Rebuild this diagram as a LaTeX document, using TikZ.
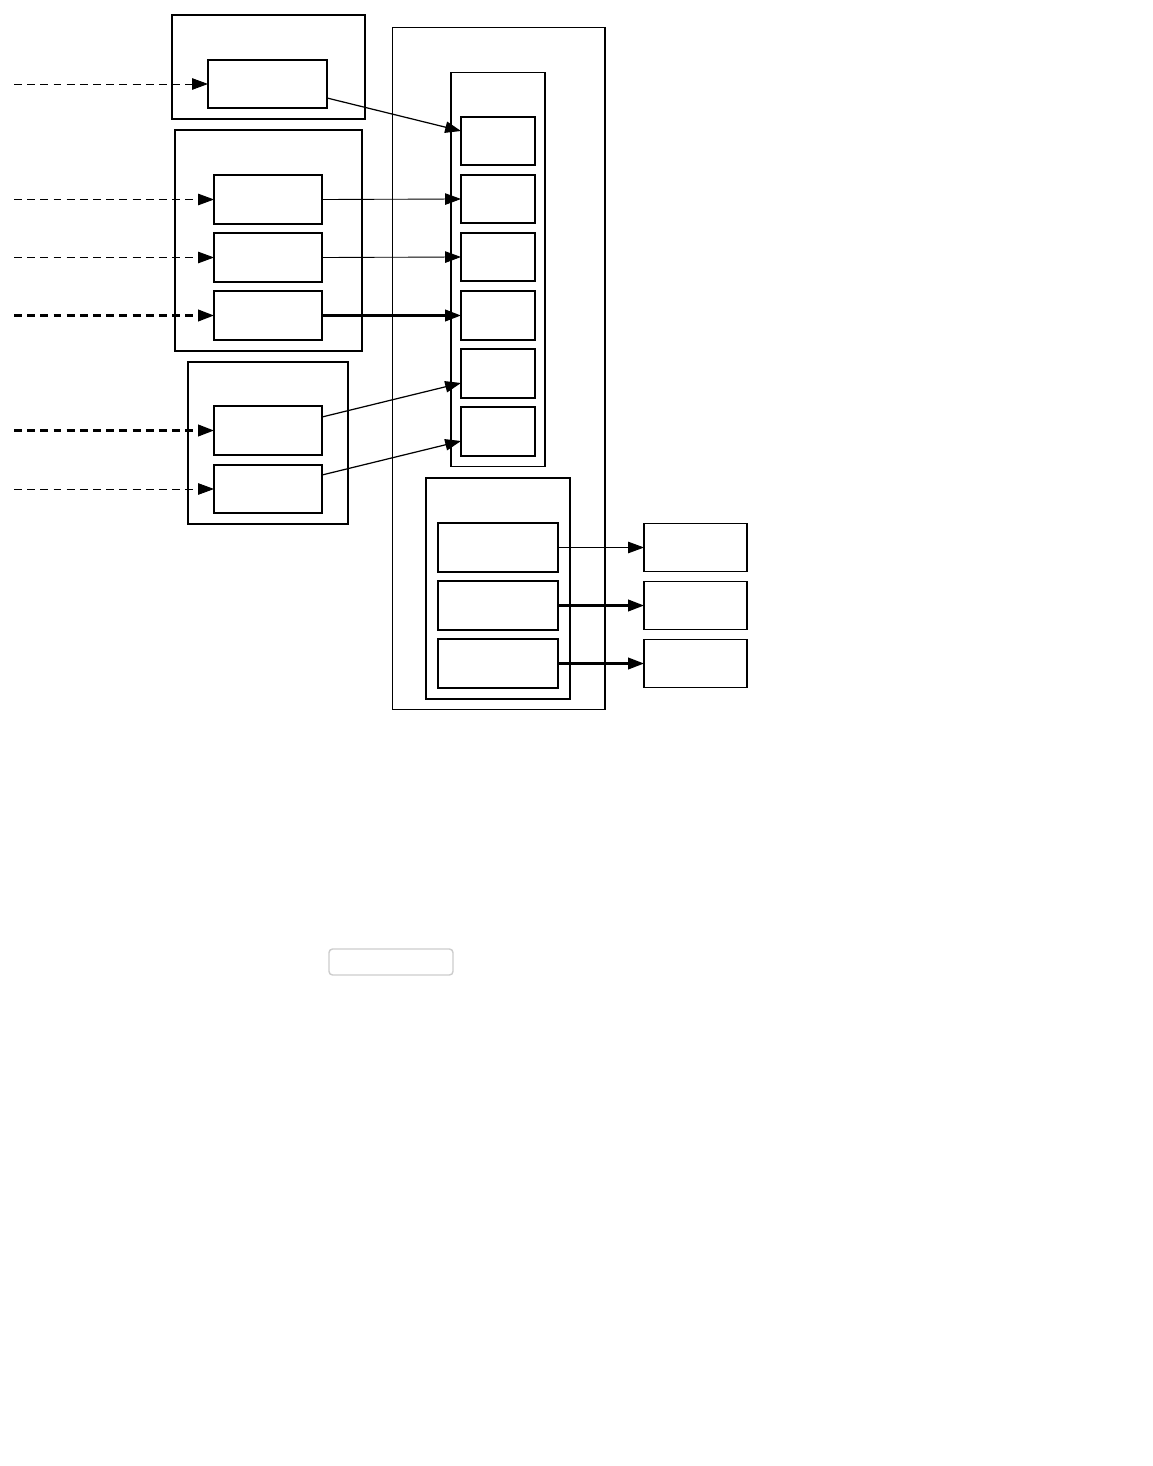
\documentclass[tikz,border=0pt]{standalone}
\usetikzlibrary{arrows.meta}

\tikzset{
    group/.style={draw, line width=0.6pt, inner sep=0pt, outer sep=0pt},
    unit/.style={draw, line width=0.9pt, inner sep=0pt, outer sep=0pt, minimum height=0.97cm},
    feed/.style={-{Triangle[length=9pt, width=6.5pt]}, dash pattern=on 4.5pt off 3pt, line width=0.5pt},
    link/.style={-{Triangle[length=9pt, width=6.5pt]}, line width=0.7pt},
    heavy/.style={line width=1.3pt}
}

\begin{document}
\begin{tikzpicture}[x=0.02cm, y=-0.02cm]
    \useasboundingbox (0,0) rectangle (1152,1466);

    % left groups
    \node[group, minimum width=3.86cm, minimum height=2.08cm] (ga) at (268.5,67) {};
    \node[unit, minimum width=2.38cm] (a1) at (267.5,84) {};

    \node[group, minimum width=3.74cm, minimum height=4.42cm] (gb) at (268.5,240.5) {};
    \node[unit, minimum width=2.16cm] (b1) at (268,199.5) {};
    \node[unit, minimum width=2.16cm] (b2) at (268,257.5) {};
    \node[unit, minimum width=2.16cm] (b3) at (268,315.5) {};

    \node[group, line width=0.9pt, minimum width=3.2cm, minimum height=3.24cm] (gc) at (268,443) {};
    \node[unit, minimum width=2.16cm] (c1) at (268,430.5) {};
    \node[unit, minimum width=2.16cm] (c2) at (268,489) {};

    % main block
    \node[group, minimum width=4.26cm, minimum height=13.66cm] (main) at (498.5,368.5) {};
    \node[group, minimum width=1.88cm, minimum height=7.9cm] (slots) at (498,269.5) {};
    \node[unit, minimum width=1.48cm] (s1) at (498,141) {};
    \node[unit, minimum width=1.48cm] (s2) at (498,199) {};
    \node[unit, minimum width=1.48cm] (s3) at (498,257) {};
    \node[unit, minimum width=1.48cm] (s4) at (498,315.5) {};
    \node[unit, minimum width=1.48cm] (s5) at (498,373.5) {};
    \node[unit, minimum width=1.48cm] (s6) at (498,431.5) {};

    \node[group, minimum width=2.88cm, minimum height=4.42cm] (outs) at (498,588.5) {};
    \node[unit, minimum width=2.4cm] (o1) at (498,547.5) {};
    \node[unit, minimum width=2.4cm] (o2) at (498,605.5) {};
    \node[unit, minimum width=2.4cm] (o3) at (498,663.5) {};

    % right targets
    \node[unit, line width=0.7pt, minimum width=2.06cm] (t1) at (695.5,547.5) {};
    \node[unit, line width=0.7pt, minimum width=2.06cm] (t2) at (695.5,605.5) {};
    \node[unit, line width=0.7pt, minimum width=2.06cm] (t3) at (695.5,663.5) {};

    % lone rounded box
    \node[draw=black!20, line width=0.8pt, rounded corners=2pt, inner sep=0pt,
          minimum width=2.48cm, minimum height=0.52cm] (note) at (391,962) {};

    % inputs
    \coordinate (in1) at (14,84);
    \coordinate (in2) at (14,199.5);
    \coordinate (in3) at (14,257.5);
    \coordinate (in4) at (14,315.5);
    \coordinate (in5) at (14,430.5);
    \coordinate (in6) at (14,489);

    \draw[feed] (in1) -- (a1.west);
    \draw[feed] (in2) -- (b1.west);
    \draw[feed] (in3) -- (b2.west);
    \draw[feed, heavy] (in4) -- (b3.west);
    \draw[feed, heavy] (in5) -- (c1.west);
    \draw[feed] (in6) -- (c2.west);

    % into the slots
    \draw[link] ([yshift=-0.28cm]a1.east) -- ([yshift=0.2cm]s1.west);
    \draw[link, line width=0.5pt] (b1.east) -- (s2.west);
    \draw[link, line width=0.5pt] (b2.east) -- (s3.west);
    \draw[link, heavy] (b3.east) -- (s4.west);
    \draw[link] ([yshift=0.27cm]c1.east) -- ([yshift=-0.19cm]s5.west);
    \draw[link] ([yshift=0.28cm]c2.east) -- ([yshift=-0.19cm]s6.west);

    % out to the right
    \draw[link, line width=0.5pt] (o1.east) -- (t1.west);
    \draw[link, heavy] (o2.east) -- (t2.west);
    \draw[link, heavy] (o3.east) -- (t3.west);
\end{tikzpicture}
\end{document}
